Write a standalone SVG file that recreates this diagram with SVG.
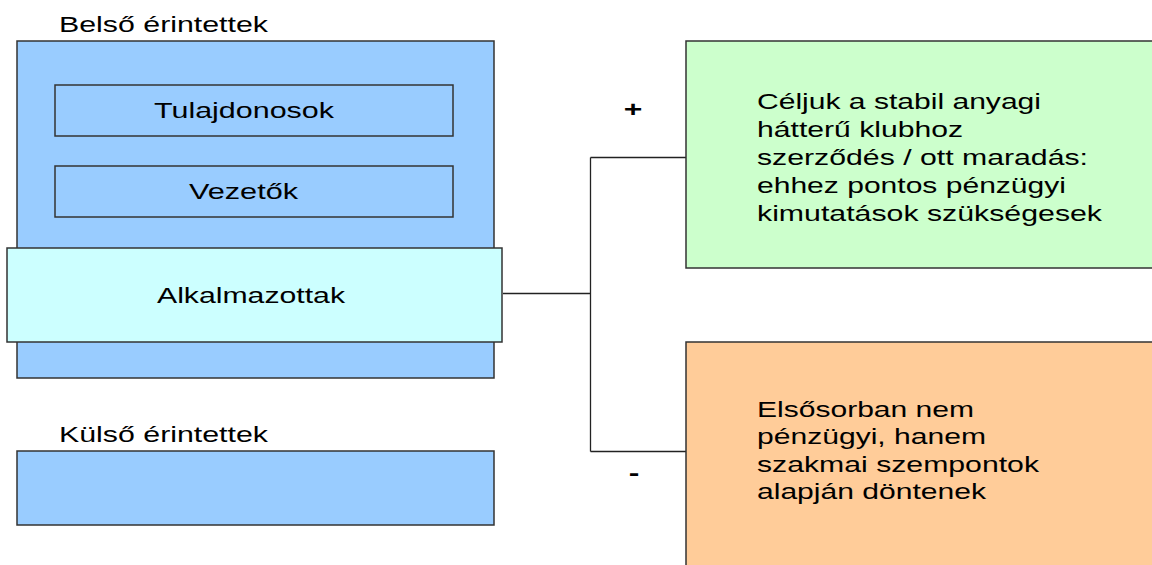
<svg xmlns="http://www.w3.org/2000/svg" width="1152" height="565" viewBox="0 0 1152 565">
<style>
  .t{font-family:"Liberation Sans",Arial,sans-serif;font-size:22px;fill:#000}
  .b{stroke:#333;stroke-width:1.5}
  .blue{fill:#99CCFF}
  .cyan{fill:#CCFFFF}
  .green{fill:#CCFFCC}
  .orange{fill:#FFCC99}
  .c{fill:none;stroke:#222;stroke-width:1.3}
  .sign{font-family:"Liberation Sans",Arial,sans-serif;font-size:22px;font-weight:bold;fill:#000}
</style>
<rect width="1152" height="565" fill="#fff"/>
<g id="belso">
  <text class="t" x="59" y="32" textLength="209" lengthAdjust="spacingAndGlyphs">Belső érintettek</text>
  <rect class="b blue" x="17" y="41" width="477" height="337"/>
</g>
<g id="tulajdonosok">
  <rect class="b blue" x="55" y="85" width="398" height="51"/>
  <text class="t" x="154" y="118" textLength="180" lengthAdjust="spacingAndGlyphs">Tulajdonosok</text>
</g>
<g id="vezetok">
  <rect class="b blue" x="55" y="166" width="398" height="51"/>
  <text class="t" x="189" y="199" textLength="109" lengthAdjust="spacingAndGlyphs">Vezetők</text>
</g>
<g id="alkalmazottak">
  <rect class="b cyan" x="7" y="248" width="495" height="94"/>
  <text class="t" x="157" y="303" textLength="188" lengthAdjust="spacingAndGlyphs">Alkalmazottak</text>
</g>
<g id="kulso">
  <text class="t" x="59" y="442" textLength="209" lengthAdjust="spacingAndGlyphs">Külső érintettek</text>
  <rect class="b blue" x="17" y="451" width="477" height="74"/>
</g>
<g id="connectors">
  <path class="c" d="M503 293.5H590.5M590.5 157.5V451.5M590.5 157.5H686M590.5 451.5H686"/>
</g>
<g id="plus">
  <text class="sign" transform="translate(633 116.5) scale(1.45 1)" text-anchor="middle">+</text>
</g>
<g id="minus">
  <text class="sign" transform="translate(634 479.5) scale(1.45 1)" text-anchor="middle">-</text>
</g>
<g id="positive">
  <rect class="b green" x="686" y="41" width="480" height="227"/>
  <text class="t" x="757" y="109" textLength="284" lengthAdjust="spacingAndGlyphs">Céljuk a stabil anyagi</text>
  <text class="t" x="757" y="137" textLength="206" lengthAdjust="spacingAndGlyphs">hátterű klubhoz</text>
  <text class="t" x="757" y="165" textLength="331" lengthAdjust="spacingAndGlyphs">szerződés / ott maradás:</text>
  <text class="t" x="757" y="193" textLength="309" lengthAdjust="spacingAndGlyphs">ehhez pontos pénzügyi</text>
  <text class="t" x="757" y="221" textLength="345" lengthAdjust="spacingAndGlyphs">kimutatások szükségesek</text>
</g>
<g id="negative">
  <rect class="b orange" x="686" y="342" width="480" height="240"/>
  <text class="t" x="757" y="417" textLength="217" lengthAdjust="spacingAndGlyphs">Elsősorban nem</text>
  <text class="t" x="757" y="444" textLength="229" lengthAdjust="spacingAndGlyphs">pénzügyi, hanem</text>
  <text class="t" x="757" y="472" textLength="282" lengthAdjust="spacingAndGlyphs">szakmai szempontok</text>
  <text class="t" x="757" y="499" textLength="229" lengthAdjust="spacingAndGlyphs">alapján döntenek</text>
</g>
</svg>
